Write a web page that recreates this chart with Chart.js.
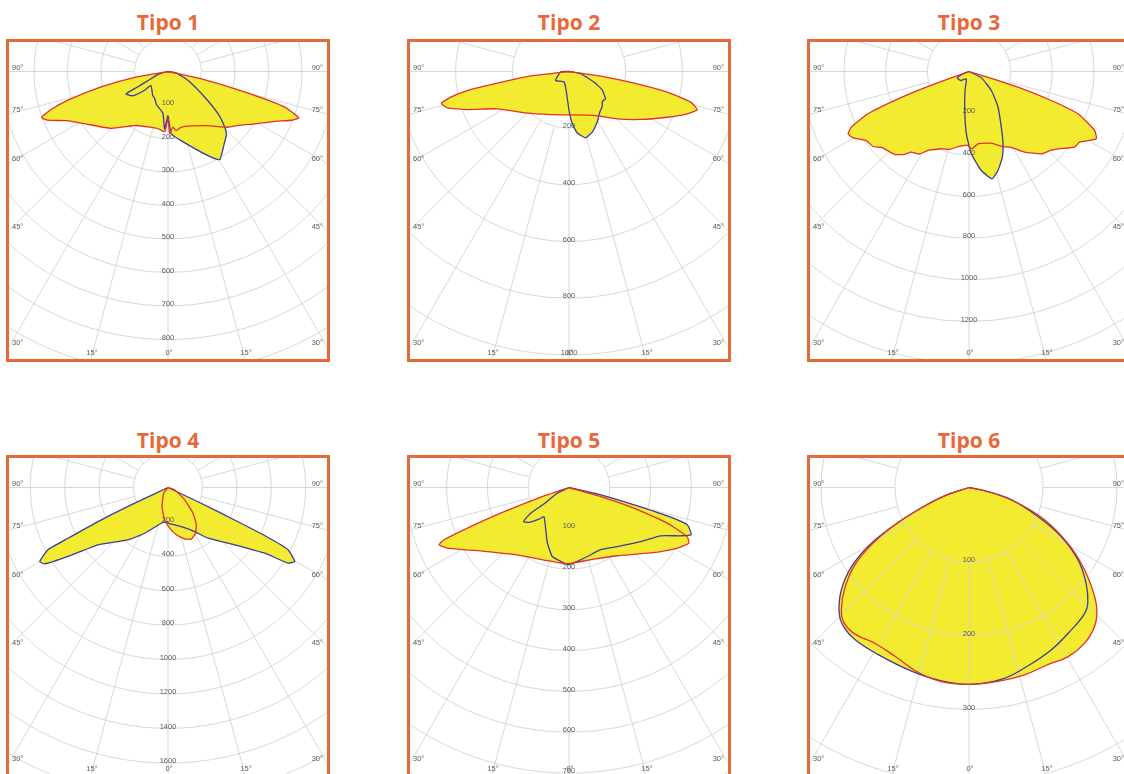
<!DOCTYPE html>
<html>
<head>
<meta charset="utf-8">
<title>Tipo 1 - 6</title>
<script src="https://cdn.jsdelivr.net/npm/chart.js@4"></script>
<style>
  html, body { margin: 0; padding: 0; width: 1124px; height: 774px; overflow: hidden; background: #fff; }
  .title { position: absolute; width: 324px; height: 28px; line-height: 28px; text-align: center;
           font: 700 21px "Open Sans", "Liberation Sans", sans-serif; color: #e8683a; }
  .box { position: absolute; width: 324px; height: 323px; box-sizing: border-box; border: 3px solid #e8683a; }
  .box canvas { display: block; }
</style>
</head>
<body>
<div id="wrap"></div>
<script>
// degree labels on the frame, ring labels per diagram (cd/klm)
const degreeTicks = [90, 75, 60, 45, 30, 15, 0];

const t1Rings = [100, 200, 300, 400, 500, 600, 700, 800, 900];
const t2Rings = [200, 400, 600, 800, 1000];
const t3Rings = [200, 400, 600, 800, 1000, 1200, 1400];
const t4Rings = [200, 400, 600, 800, 1000, 1200, 1400, 1600, 1800];
const t5Rings = [100, 200, 300, 400, 500, 600, 700, 800];
const t6Rings = [100, 200, 300, 400];

// Tipo 1
const t1RedAng = [-90, -80, -77, -74, -72, -70, -68, -64, -58, -45, -31, -20, -10, -3, 0, 1.5, 5, 8, 13, 24, 36, 47, 52, 59, 65, 68.5, 70.5, 73, 74, 75.5, 77.5, 90];
const t1RedCd  = [0, 101, 205, 312, 367, 402, 388, 335, 294, 240, 188, 176, 173, 180, 140, 185, 167, 178, 171, 178, 200, 244, 262, 303, 352, 397, 414, 366, 312, 207, 102, 0];
const t1BlueAng = [-90, -75, -67, -63, -62, -58, -54.5, -51.3, -50.5, -32.5, -27.5, -19, -7, -3.5, 0, 3, 11, 21, 27, 30.5, 37.7, 43, 45.5, 49.7, 55, 65.8, 80, 90];
const t1BlueCd  = [0, 25, 55, 102, 142, 135, 123, 91, 66, 85, 88, 105, 125, 172, 132, 187, 211, 253, 288, 305, 274, 256, 238, 197, 134, 66, 25, 0];

// Tipo 2
const t2RedAng = [-90, -83.5, -81, -79.4, -77.8, -76, -73.4, -69.5, -62.5, -45, -23, 0, 29.6, 45.6, 56.2, 65, 70.3, 73.4, 75.9, 78.1, 79.8, 81.6, 90];
const t2RedCd  = [0, 124, 244, 365, 427, 464, 448, 383, 285, 208, 165, 153, 178, 239, 304, 382, 443, 472, 443, 354, 233, 113, 0];
const t2BlueAng = [-90, -88, -56, -25, -6, 0, 3.6, 7.7, 14, 21, 29, 37, 43.6, 48, 53, 61, 67, 79, 90];
const t2BlueCd  = [0, 29, 57, 41, 79, 137, 185, 219, 241, 229, 205, 180, 170, 158, 161, 134, 96, 42, 0];

// Tipo 3
const t3RedAng = [-90, -70, -69, -67.3, -64.7, -62.7, -60.2, -56, -52, -49, -42, -38, -35.6, -31, -27.4, -19.7, -14, -8.3, -1, 2, 7, 17.3, 24, 29, 34.6, 41.3, 46, 49, 54.4, 57.4, 62.1, 64.9, 68.8, 70.6, 72.3, 73, 90];
const t3RedCd  = [0, 175, 347, 526, 625, 653, 641, 594, 585, 556, 535, 505, 476, 462, 427, 394, 385, 364, 355, 372, 350, 360, 395, 416, 470, 526, 545, 566, 624, 630, 691, 666, 561, 419, 247, 79, 0];
const t3BlueAng = [-90, -69, -61.5, -42.8, -20, -11.9, -6.3, -2.4, 1.6, 7.1, 12.1, 16.3, 21.3, 25.2, 30.1, 39.1, 49.6, 62.8, 90];
const t3BlueCd  = [0, 31, 64, 59, 37, 93, 188, 300, 395, 479, 527, 495, 441, 384, 309, 221, 141, 67, 0];

// Tipo 4
const t4BlueAng = [-90, -64.8, -64.1, -63.1, -62.6, -60, -58.2, -55.4, -50.7, -37.4, -27, -10.6, -2.8, 3, 10.1, 20.7, 31.2, 38.3, 49.3, 55.8, 57.8, 59.7, 62.6, 63.5, 64, 64.5, 90];
const t4BlueCd  = [0, 214, 430, 651, 785, 860, 842, 705, 525, 383, 298, 211, 201, 212, 220, 246, 299, 375, 511, 679, 824, 852, 785, 647, 430, 216, 0];
const t4RedAng = [-90, -37, -17.5, -5.9, 2.3, 10, 18, 24.3, 30.5, 37.2, 44.2, 53.5, 70.7, 90];
const t4RedCd  = [0, 41, 116, 189, 236, 279, 313, 329, 312, 272, 208, 120, 41, 0];

// Tipo 5
const t5RedAng = [-90, -71.2, -69.4, -68.2, -67.3, -66.2, -63.5, -53, -37.5, -19, -3.7, 3.8, 19.2, 35.3, 51.2, 60.8, 65.1, 67.5, 70.1, 72.4, 74.1, 90];
const t5RedCd  = [0, 73, 179, 268, 332, 348, 333, 260, 208, 188, 187, 185, 186, 205, 256, 304, 324, 313, 256, 167, 81, 0];
const t5BlueAng = [-90, -64, -56.8, -56.2, -53.3, -48.8, -43.5, -40.8, -28.9, -21.3, -13.6, -6.4, 0, 6.4, 14.9, 26.9, 39.3, 53, 62.2, 66.6, 68.9, 72.5, 73.9, 75.1, 77, 90];
const t5BlueCd  = [0, 32, 73, 113, 139, 130, 107, 94, 118, 146, 174, 182, 189, 182, 175, 171, 187, 220, 254, 298, 321, 304, 251, 165, 80, 0];

// Tipo 6
const t6RedAng = [-90, -71.1, -66.4, -63.3, -59.6, -55.9, -51, -46.2, -42.7, -38, -31.2, -23.7, -15.4, -8.1, 0, 8.5, 16.5, 24, 30.4, 36.6, 42.1, 46.3, 50, 55.3, 60.6, 66.9, 72.3, 77.4, 90];
const t6RedCd  = [0, 35, 75, 112, 153, 186, 216, 239, 249, 251, 246, 249, 259, 265, 266, 265, 264, 262, 265, 262, 253, 239, 219, 187, 153, 111, 69, 31, 0];
const t6BlueAng = [-90, -71.1, -66.4, -63.3, -60, -56.1, -51.3, -46, -42.2, -36.9, -28.5, -17.4, -8.1, 0, 9.5, 18.2, 26.9, 35.7, 42.6, 45.8, 50.8, 56.4, 62, 67.2, 73.8, 78, 90];
const t6BlueCd  = [0, 35, 75, 112, 155, 191, 221, 244, 253, 257, 257, 260, 264, 266, 263, 254, 246, 237, 231, 224, 204, 177, 141, 101, 60, 22, 0];

const YELLOW = "#f2eb30";
const RED = "#e2312d";
const BLUE = "#3c3c9c";
const GRID = "#d4d4d4";

// layout: box position, pixels per cd, curve smoothing
const panels = [
  { title: "Tipo 1", left: 6,   top: 39,  titleY: 22,  k: 0.335,  tension: 0.15, rings: t1Rings, red: [t1RedAng, t1RedCd], blue: [t1BlueAng, t1BlueCd] },
  { title: "Tipo 2", left: 407, top: 39,  titleY: 22,  k: 0.2835, tension: 0.15, rings: t2Rings, red: [t2RedAng, t2RedCd], blue: [t2BlueAng, t2BlueCd] },
  { title: "Tipo 3", left: 807, top: 39,  titleY: 22,  k: 0.2083, tension: 0.15, rings: t3Rings, red: [t3RedAng, t3RedCd], blue: [t3BlueAng, t3BlueCd] },
  { title: "Tipo 4", left: 6,   top: 455, titleY: 440, k: 0.1722, tension: 0.15, rings: t4Rings, red: [t4RedAng, t4RedCd], blue: [t4BlueAng, t4BlueCd] },
  { title: "Tipo 5", left: 407, top: 455, titleY: 440, k: 0.408,  tension: 0.15, rings: t5Rings, red: [t5RedAng, t5RedCd], blue: [t5BlueAng, t5BlueCd] },
  { title: "Tipo 6", left: 807, top: 455, titleY: 440, k: 0.74,   tension: 0.4,  rings: t6Rings, red: [t6RedAng, t6RedCd], blue: [t6BlueAng, t6BlueCd], gridOver: true }
];

const CW = 318, CH = 317, CY = 29.5;

function toXY(angs, cds) {
  return angs.map((a, i) => {
    const r = a * Math.PI / 180;
    return { x: cds[i] * Math.sin(r), y: -cds[i] * Math.cos(r) };
  });
}

function drawGrid(chart, p) {
  const { ctx, chartArea: ca } = chart;
  const sx = chart.scales.x, sy = chart.scales.y;
  const cx = sx.getPixelForValue(0), cy = sy.getPixelForValue(0);
  const ppu = sx.getPixelForValue(1) - cx;
  ctx.save();
  ctx.beginPath();
  ctx.rect(ca.left, ca.top, ca.right - ca.left, ca.bottom - ca.top);
  ctx.clip();
  ctx.strokeStyle = GRID;
  ctx.lineWidth = 0.9;
  p.rings.forEach(v => {
    ctx.beginPath();
    ctx.arc(cx, cy, v * ppu, 0, Math.PI * 2);
    ctx.stroke();
  });
  const r0 = p.rings[0] * ppu;
  for (let a = 0; a < 360; a += 15) {
    const t = a * Math.PI / 180;
    ctx.beginPath();
    ctx.moveTo(cx + r0 * Math.sin(t), cy + r0 * Math.cos(t));
    ctx.lineTo(cx + 1000 * Math.sin(t), cy + 1000 * Math.cos(t));
    ctx.stroke();
  }
  ctx.restore();
}

function drawLabels(chart, p) {
  const { ctx, chartArea: ca } = chart;
  const sx = chart.scales.x, sy = chart.scales.y;
  const cx = sx.getPixelForValue(0), cy = sy.getPixelForValue(0);
  const ppu = sx.getPixelForValue(1) - cx;
  ctx.save();
  ctx.fillStyle = "#5a5a5a";
  ctx.font = '7.5px "Liberation Sans", Arial, sans-serif';
  ctx.textBaseline = "middle";
  ctx.textAlign = "center";
  p.rings.forEach(v => {
    const y = cy + v * ppu - 2;
    if (y < ca.bottom - 3) ctx.fillText(String(v), cx, y);
  });
  degreeTicks.forEach(d => {
    [-1, 1].forEach(s => {
      if (d === 0 && s < 0) return;
      const t = s * d * Math.PI / 180;
      const sn = Math.sin(t), cs = Math.cos(t);
      const tx = Math.abs(sn) > 1e-6 ? (sn > 0 ? ca.right - cx : cx - ca.left) / Math.abs(sn) : Infinity;
      const ty = cs > 1e-6 ? (ca.bottom - cy) / cs : Infinity;
      const txt = d + "\u00b0";
      if (tx < ty) {
        const y = cy + tx * cs - 4;
        ctx.textAlign = sn < 0 ? "left" : "right";
        ctx.fillText(txt, sn < 0 ? ca.left + 3 : ca.right - 4, y);
      } else {
        ctx.textAlign = "center";
        ctx.fillText(txt, cx + ty * sn + 1, ca.bottom - 6);
      }
    });
  });
  ctx.restore();
}

const wrap = document.getElementById("wrap");

panels.forEach(p => {
  const title = document.createElement("div");
  title.className = "title";
  title.style.left = p.left + "px";
  title.style.top = (p.titleY - 14) + "px";
  title.textContent = p.title;
  wrap.appendChild(title);

  const box = document.createElement("div");
  box.className = "box";
  box.style.left = p.left + "px";
  box.style.top = p.top + "px";
  const cv = document.createElement("canvas");
  cv.width = CW;
  cv.height = CH;
  box.appendChild(cv);
  wrap.appendChild(box);

  const gridPlugin = {
    id: "polarGrid",
    beforeDraw(chart) { if (!p.gridOver) drawGrid(chart, p); },
    beforeDatasetsDraw(chart) { if (p.gridOver) drawGrid(chart, p); },
    afterDatasetsDraw(chart) { drawLabels(chart, p); }
  };

  new Chart(cv, {
    type: "line",
    data: {
      datasets: [
        { label: "C0-C180", data: toXY(p.red[0], p.red[1]), borderColor: RED, backgroundColor: YELLOW, fill: "shape" },
        { label: "C90-C270", data: toXY(p.blue[0], p.blue[1]), borderColor: BLUE, backgroundColor: YELLOW, fill: "shape" }
      ]
    },
    options: {
      responsive: false,
      animation: false,
      events: [],
      layout: { padding: 0 },
      elements: { point: { radius: 0 }, line: { borderWidth: 1.3, tension: p.tension } },
      scales: {
        x: { type: "linear", display: false, min: -(CW / 2) / p.k, max: (CW / 2) / p.k },
        y: { type: "linear", display: false, min: -(CH - CY) / p.k, max: CY / p.k }
      },
      plugins: {
        legend: { display: false },
        tooltip: { enabled: false },
        filler: { drawTime: "beforeDatasetsDraw" }
      }
    },
    plugins: [gridPlugin]
  });
});
</script>
</body>
</html>
